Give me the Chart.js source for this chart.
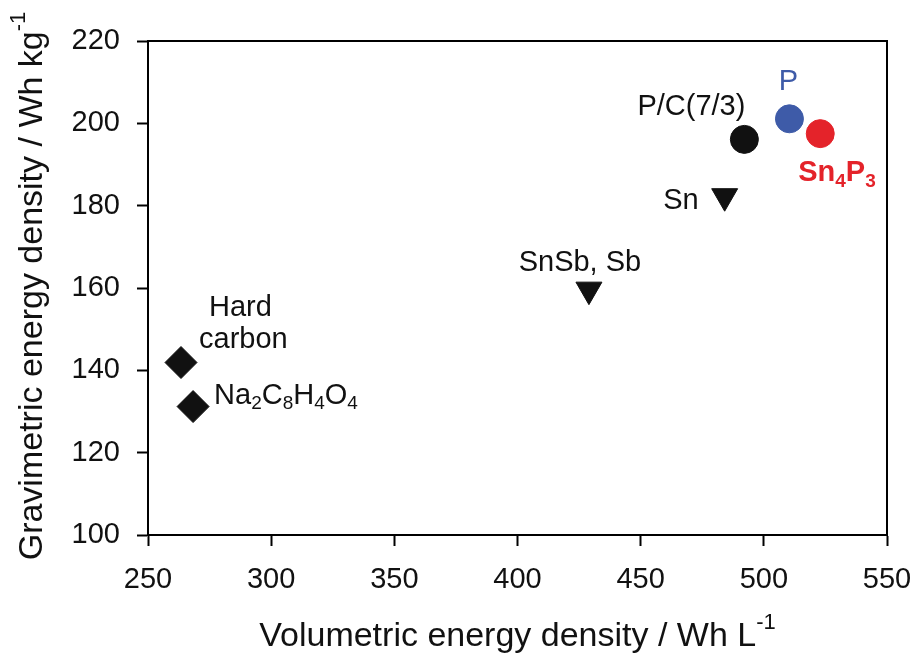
<!DOCTYPE html>
<html>
<head>
<meta charset="utf-8">
<title>Energy density of anode materials</title>
<script src="https://cdn.jsdelivr.net/npm/chart.js@4.4.1/dist/chart.umd.min.js"></script>
<style>
  html, body { margin: 0; padding: 0; background: #fff; }
  #wrap { width: 918px; height: 662px; }
</style>
</head>
<body>
<div id="wrap"><canvas id="myChart" width="918" height="662"></canvas></div>
<script>
// Anode materials: volumetric vs gravimetric energy density.
// "_" marks a subscript, "^" a superscript, "\n" a line break.
const materials = [
  "Hard\ncarbon",
  "Na_2C_8H_4O_4",
  "SnSb, Sb",
  "Sn",
  "P/C(7/3)",
  "P",
  "Sn_4P_3",
];
const volumetric = [263.4, 268.3, 429.0, 484.1, 492.1, 510.4, 522.9]; // Wh L-1
const gravimetric = [141.9, 131.2, 159.6, 182.3, 196.1, 201.1, 197.5]; // Wh kg-1

const xTicks = [250, 300, 350, 400, 450, 500, 550];
const yTicks = [100, 120, 140, 160, 180, 200, 220];

const xTitle = "Volumetric energy density / Wh L^{-1}";
const yTitle = "Gravimetric energy density / Wh kg^{-1}";

// marker look per material
const BLUE = "#3e5ba8";
const RED = "#e4232a";
const INK = "#111";
const markerStyle = ["rectRot", "rectRot", "triangle", "triangle", "circle", "circle", "circle"];
const markerRotation = [0, 0, 180, 180, 0, 0, 0];
const markerRadius = [16, 16, 15, 15, 14, 14, 14];
const markerColor = [INK, INK, INK, INK, INK, BLUE, RED];

// label placement around each marker, one [dx, dy] per text line
const labelAlign = ["left", "left", "center", "right", "right", "center", "left"];
const labelOffset = [
  [[28, -55], [18, -23]],
  [[21, -11]],
  [[-9, -27]],
  [[-26, 5]],
  [[1, -32]],
  [[-1, -37]],
  [[-22, 39]],
];
const labelColor = [INK, INK, INK, INK, INK, BLUE, RED];
const labelWeight = ["normal", "normal", "normal", "normal", "normal", "normal", "bold"];

const FONT = "'Liberation Sans', Arial, sans-serif";

// split "Na_2C_8" style strings into plain / sub / sup pieces
const parseRich = (s) => {
  const parts = [];
  let buf = "";
  for (let i = 0; i < s.length; i++) {
    const c = s[i];
    if (c === "_" || c === "^") {
      if (buf) parts.push({ t: buf, mode: "n" });
      buf = "";
      let t;
      if (s[i + 1] === "{") {
        const end = s.indexOf("}", i + 2);
        t = s.slice(i + 2, end);
        i = end;
      } else {
        t = s[i + 1];
        i += 1;
      }
      parts.push({ t: t, mode: c === "_" ? "sub" : "sup" });
    } else {
      buf += c;
    }
  }
  if (buf) parts.push({ t: buf, mode: "n" });
  return parts;
};

const drawRich = (ctx, s, x, y, size, weight, color, align) => {
  const parts = parseRich(s);
  const fontOf = (p) => weight + " " + (p.mode === "n" ? size : Math.round(size * 0.64)) + "px " + FONT;
  let total = 0;
  parts.forEach((p) => {
    ctx.font = fontOf(p);
    p.w = ctx.measureText(p.t).width;
    total += p.w;
  });
  let cx = x;
  if (align === "center") cx = x - total / 2;
  if (align === "right") cx = x - total;
  ctx.fillStyle = color;
  ctx.textAlign = "left";
  ctx.textBaseline = "middle";
  parts.forEach((p) => {
    ctx.font = fontOf(p);
    let dy = 0;
    if (p.mode === "sub") dy = size * 0.3;
    if (p.mode === "sup") dy = -size * 0.42;
    ctx.fillText(p.t, cx, y + dy);
    cx += p.w;
  });
};

// frame, axis titles and point labels
const annotate = {
  id: "annotate",
  afterDraw(chart) {
    const ctx = chart.ctx;
    const a = chart.chartArea;
    ctx.save();
    ctx.strokeStyle = "#000";
    ctx.lineWidth = 2;
    ctx.strokeRect(a.left, a.top, a.right - a.left, a.bottom - a.top);

    drawRich(ctx, xTitle, (a.left + a.right) / 2, a.bottom + 102, 34, "normal", INK, "center");
    ctx.save();
    ctx.translate(33, (a.top + a.bottom) / 2 - 2);
    ctx.rotate(-Math.PI / 2);
    drawRich(ctx, yTitle, 0, 0, 34, "normal", INK, "center");
    ctx.restore();

    const pts = chart.getDatasetMeta(0).data;
    materials.forEach((name, i) => {
      name.split("\n").forEach((line, j) => {
        const off = labelOffset[i][j];
        drawRich(ctx, line, pts[i].x + off[0], pts[i].y + off[1], 29, labelWeight[i], labelColor[i], labelAlign[i]);
      });
    });
    ctx.restore();
  },
};

const axisStyle = (ticks) => ({
  type: "linear",
  min: ticks[0],
  max: ticks[ticks.length - 1],
  afterBuildTicks: (scale) => {
    scale.ticks = ticks.map((v) => ({ value: v }));
  },
  ticks: {
    color: INK,
    padding: 17,
    font: { family: FONT, size: 29 },
  },
  grid: {
    drawOnChartArea: false,
    drawTicks: true,
    tickLength: 11,
    tickColor: "#000",
    tickWidth: 2,
  },
  border: { display: true, color: "#000", width: 2 },
});

// fixed axis sizes; the end labels may hang into the page margin
const xAxis = axisStyle(xTicks);
xAxis.afterFit = (scale) => {
  scale.height = 127;
  scale.paddingLeft = 0;
  scale.paddingRight = 0;
};
const yAxis = axisStyle(yTicks);
yAxis.afterFit = (scale) => {
  scale.width = 148;
  scale.paddingTop = 0;
  scale.paddingBottom = 0;
};

var ctx = document.getElementById("myChart");
var myChart = new Chart(ctx, {
  type: "scatter",
  data: {
    datasets: [
      {
        label: "Anode materials",
        data: volumetric.map((v, i) => ({ x: v, y: gravimetric[i] })),
        pointStyle: markerStyle,
        rotation: markerRotation,
        radius: markerRadius,
        backgroundColor: markerColor,
        borderColor: markerColor,
        borderWidth: 1,
        clip: false,
      },
    ],
  },
  options: {
    responsive: false,
    animation: false,
    layout: { padding: { left: 0, top: 41, right: 31, bottom: 0 } },
    plugins: {
      legend: { display: false },
      tooltip: { enabled: false },
    },
    scales: { x: xAxis, y: yAxis },
  },
  plugins: [annotate],
});
</script>
</body>
</html>
